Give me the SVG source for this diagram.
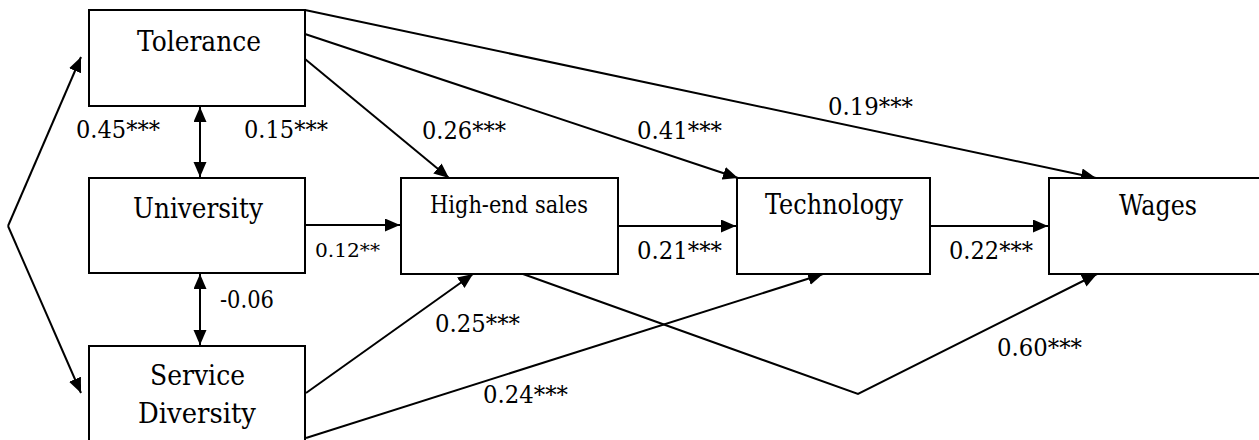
<svg xmlns="http://www.w3.org/2000/svg" width="1259" height="440" viewBox="0 0 1259 440">
<style>
.box{fill:#fff;stroke:#000;stroke-width:2}
text{font-family:'DejaVu Serif','Liberation Serif',serif;fill:#000}
.nt{font-size:28px;text-anchor:middle}
.nts{font-size:24px;text-anchor:middle}
.el{font-size:24px}
.els{font-size:19px}
.c{fill:none;stroke:#000;stroke-width:2;marker-end:url(#ah)}
.d{fill:none;stroke:#000;stroke-width:2;marker-end:url(#ah);marker-start:url(#ahs)}
</style>
<defs>
<marker id="ah" markerUnits="userSpaceOnUse" markerWidth="16" markerHeight="14" refX="15" refY="6.5" orient="auto"><path d="M0,0 L15,6.5 L0,13 z" fill="#000"/></marker>
<marker id="ahs" markerUnits="userSpaceOnUse" markerWidth="16" markerHeight="14" refX="15" refY="6.5" orient="auto-start-reverse"><path d="M0,0 L15,6.5 L0,13 z" fill="#000"/></marker>
</defs>
<rect width="1259" height="440" fill="#fff"/>
<g id="connectors">
<line class="d" x1="200" y1="107" x2="200" y2="177"/>
<line class="d" x1="200" y1="274" x2="200" y2="345"/>
<polyline class="c" points="8,226 81,57"/>
<polyline class="c" points="8,226 81,393"/>
<line class="c" x1="305" y1="225" x2="400" y2="225"/>
<line class="c" x1="618" y1="226" x2="736" y2="226"/>
<line class="c" x1="930" y1="226" x2="1048" y2="226"/>
<line class="c" x1="305" y1="10" x2="1096" y2="178"/>
<line class="c" x1="305" y1="34" x2="738" y2="178"/>
<line class="c" x1="305" y1="59" x2="449" y2="178"/>
<line class="c" x1="306" y1="393" x2="473" y2="274"/>
<line class="c" x1="306" y1="438" x2="823" y2="274"/>
<polyline class="c" points="523,274 858,394 1097,274"/>
<text class="el" x="76" y="138" textLength="84" lengthAdjust="spacingAndGlyphs">0.45***</text>
<text class="el" x="244" y="138" textLength="84" lengthAdjust="spacingAndGlyphs">0.15***</text>
<text class="el" x="220" y="308" textLength="54" lengthAdjust="spacingAndGlyphs">-0.06</text>
<text class="els" x="315" y="257" textLength="65" lengthAdjust="spacingAndGlyphs">0.12**</text>
<text class="el" x="637" y="259" textLength="85" lengthAdjust="spacingAndGlyphs">0.21***</text>
<text class="el" x="949" y="259" textLength="84" lengthAdjust="spacingAndGlyphs">0.22***</text>
<text class="el" x="828" y="115" textLength="85" lengthAdjust="spacingAndGlyphs">0.19***</text>
<text class="el" x="637" y="139" textLength="85" lengthAdjust="spacingAndGlyphs">0.41***</text>
<text class="el" x="422" y="139" textLength="84" lengthAdjust="spacingAndGlyphs">0.26***</text>
<text class="el" x="435" y="332" textLength="85" lengthAdjust="spacingAndGlyphs">0.25***</text>
<text class="el" x="483" y="403" textLength="85" lengthAdjust="spacingAndGlyphs">0.24***</text>
<text class="el" x="997" y="356" textLength="85" lengthAdjust="spacingAndGlyphs">0.60***</text>
</g>
<g id="tolerance"><rect class="box" x="89" y="10" width="216" height="96"/><text class="nt" x="199" y="51" textLength="124" lengthAdjust="spacingAndGlyphs">Tolerance</text></g>
<g id="university"><rect class="box" x="89" y="178" width="216" height="95"/><text class="nt" x="198" y="218" textLength="130" lengthAdjust="spacingAndGlyphs">University</text></g>
<g id="service-diversity"><rect class="box" x="89" y="346" width="216" height="110"/><text class="nt" x="197.5" y="385" textLength="95" lengthAdjust="spacingAndGlyphs">Service</text><text class="nt" x="197" y="423" textLength="118" lengthAdjust="spacingAndGlyphs">Diversity</text></g>
<g id="high-end-sales"><rect class="box" x="401" y="178" width="217" height="96"/><text class="nts" x="509" y="213" textLength="158" lengthAdjust="spacingAndGlyphs">High-end sales</text></g>
<g id="technology"><rect class="box" x="737" y="178" width="193" height="96"/><text class="nt" x="834" y="214" textLength="138" lengthAdjust="spacingAndGlyphs">Technology</text></g>
<g id="wages"><rect class="box" x="1049" y="178" width="230" height="96"/><text class="nt" x="1158" y="215" textLength="78" lengthAdjust="spacingAndGlyphs">Wages</text></g>
</svg>
